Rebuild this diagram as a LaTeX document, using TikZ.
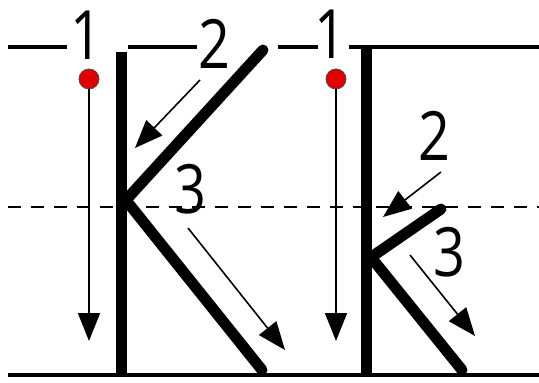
\documentclass[tikz,border=0pt]{standalone}
\usepackage{fontspec}
\usepackage{tikz}
\usetikzlibrary{arrows.meta}
\newfontfamily\numfont[FakeStretch=0.82]{Open Sans}
\definecolor{inkblack}{RGB}{0,0,0}
\definecolor{dotred}{RGB}{225,0,0}
\tikzset{
  rule/.style={draw=inkblack, line width=3.5pt},
  midrule/.style={draw=inkblack, line width=1.6pt, dash pattern=on 13pt off 10pt},
  stroke/.style={draw=inkblack, line width=11pt},
  armstroke/.style={stroke, line cap=round},
  guide/.style={-{Triangle[length=28pt, width=22pt]}, draw=inkblack, line width=1.6pt},
  startdot/.style={circle, draw=inkblack!70, line width=0.8pt, fill=dotred,
    minimum size=20pt, inner sep=0pt},
  num/.style={font=\numfont\fontsize{68}{68}\selectfont, inner sep=0pt, text=inkblack}
}

\begin{document}
\begin{tikzpicture}[x=1pt, y=-1pt]
  \useasboundingbox (0,0) rectangle (539,383);
  % ruling
  \draw[rule] (8,47) -- (67,47);
  \draw[rule] (128,47) -- (197,47);
  \draw[rule] (278,47) -- (318,47);
  \draw[rule] (349,47) -- (539,47);
  \draw[midrule] (8,207) -- (539,207);
  \draw[rule] (8,375) -- (539,375);

  % capital K
  \draw[stroke] (121,52) -- (121,375);
  \draw[armstroke] (125,201) -- (263,50);
  \draw[armstroke] (125,199) -- (262,370);
  % small k
  \draw[stroke] (366,45) -- (366,375);
  \draw[armstroke] (370,258) -- (441,209);
  \draw[armstroke] (370,256) -- (462,370);

  % stroke order
  \node[startdot] (dotA) at (89,79) {};
  \node[startdot] (dotB) at (336,79) {};
  \coordinate (endA) at (89,341);
  \coordinate (endB) at (336,341);
  \coordinate (twoAs) at (200,80);
  \coordinate (twoAe) at (135,148);
  \coordinate (threeAs) at (188,228);
  \coordinate (threeAe) at (285,350);
  \coordinate (twoBs) at (441,172);
  \coordinate (twoBe) at (383,217);
  \coordinate (threeBs) at (410,255);
  \coordinate (threeBe) at (475,336);

  \draw[guide] (dotA) -- (endA);
  \draw[guide] (dotB) -- (endB);
  \draw[guide] (twoAs) -- (twoAe);
  \draw[guide] (threeAs) -- (threeAe);
  \draw[guide] (twoBs) -- (twoBe);
  \draw[guide] (threeBs) -- (threeBe);

  \node[num] (oneA) at (86,35) {1};
  \node[num] (twoA) at (214,44) {2};
  \node[num] (threeA) at (190,189) {3};
  \node[num] (oneB) at (330,34) {1};
  \node[num] (twoB) at (434,136) {2};
  \node[num] (threeB) at (449,252) {3};
\end{tikzpicture}
\end{document}
